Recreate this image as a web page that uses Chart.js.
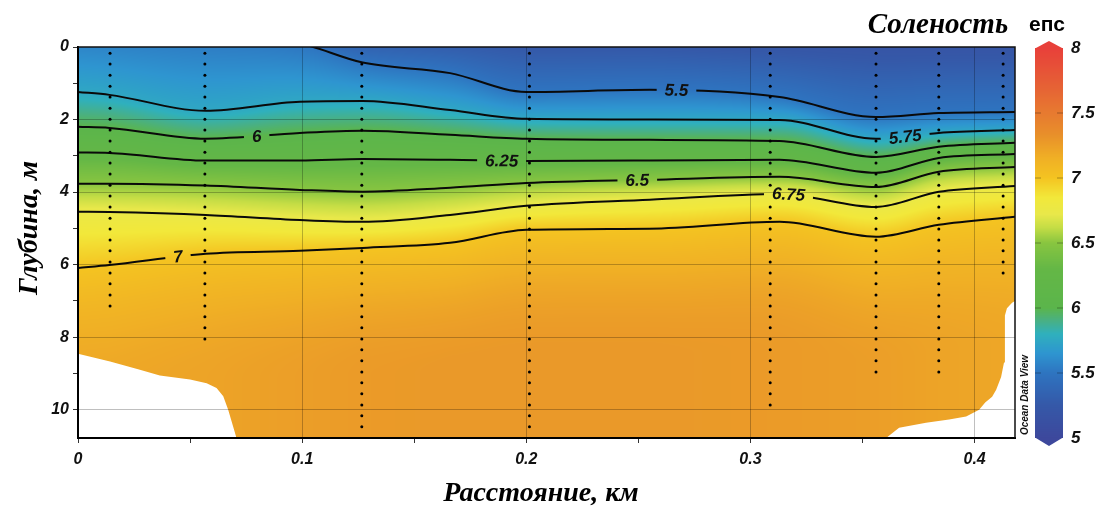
<!DOCTYPE html>
<html>
<head>
<meta charset="utf-8">
<script src="https://cdn.jsdelivr.net/npm/chart.js@4.4.1/dist/chart.umd.min.js"></script>
<style>
body { margin: 0; background: #fff; }
</style>
</head>
<body>
<canvas id="myChart" width="1095" height="506"></canvas>
<script>
// distance along section (km) where contour depths were read
var distKm = [0, 0.014, 0.057, 0.099, 0.127, 0.166, 0.2, 0.255, 0.313, 0.356, 0.384, 0.418];

// salinity contour levels and their depth (m) at each distance
var levels = [5.5, 5.75, 6, 6.25, 6.5, 6.75, 7];
var depth55  = [-0.6, -0.55, -0.4, -0.1, 0.43, 0.72, 1.24, 1.18, 1.38, 1.93, 1.82, 1.79];
var depth575 = [1.24, 1.32, 1.76, 1.51, 1.49, 1.74, 1.98, 2.0, 2.01, 2.53, 2.37, 2.29];
var depth60  = [2.2, 2.23, 2.53, 2.37, 2.31, 2.42, 2.53, 2.56, 2.59, 3.03, 2.75, 2.64];
var depth625 = [2.91, 2.92, 3.13, 3.13, 3.09, 3.11, 3.14, 3.13, 3.11, 3.47, 3.06, 2.95];
var depth65  = [3.77, 3.77, 3.82, 3.94, 3.99, 3.88, 3.75, 3.66, 3.58, 3.86, 3.44, 3.31];
var depth675 = [4.54, 4.55, 4.63, 4.77, 4.82, 4.63, 4.38, 4.21, 4.05, 4.41, 3.99, 3.83];
var depth70  = [6.09, 6.01, 5.7, 5.62, 5.54, 5.4, 5.04, 5.01, 4.82, 5.23, 4.9, 4.68];

// salinity at the surface and at the bottom of the section
var surfSal = [5.45, 5.45, 5.45, 5.45, 5.35, 5.3, 5.25, 5.25, 5.22, 5.2, 5.2, 5.2];
var deepSal = [7.2, 7.2, 7.22, 7.25, 7.27, 7.28, 7.28, 7.28, 7.27, 7.25, 7.22, 7.2];

// contour labels
var labelText = ['5.5', '5.75', '6', '6.25', '6.5', '6.75', '7'];
var labelKm = [0.267, 0.369, 0.0797, 0.189, 0.2495, 0.317, 0.0446];

// CTD stations and sample depths
var stationKm = [0.0143, 0.0566, 0.1266, 0.2014, 0.3088, 0.356, 0.384, 0.4127];
var stationMaxDepth = [7.3, 8.2, 10.5, 10.5, 10.1, 9.0, 9.0, 6.25];
var sampleDepth = [0.17, 0.47, 0.78, 1.08, 1.38, 1.69, 1.99, 2.29, 2.59, 2.9, 3.2, 3.5, 3.81, 4.11,
  4.41, 4.72, 5.02, 5.32, 5.62, 5.93, 6.23, 6.53, 6.84, 7.14, 7.44, 7.74, 8.05, 8.35, 8.65, 8.96,
  9.26, 9.56, 9.87, 10.17, 10.47];

// bottom outline (no data below)
var leftBottomKm = [0, 0.0143, 0.0276, 0.0365, 0.05, 0.0574, 0.0618, 0.0648, 0.067, 0.0692, 0.0707];
var leftBottomDepth = [8.46, 8.67, 8.9, 9.06, 9.17, 9.27, 9.4, 9.63, 10.0, 10.46, 10.78];
var rightBottomKm = [0.3605, 0.3663, 0.3783, 0.3886, 0.3962, 0.402, 0.4047, 0.4078, 0.4096, 0.4118, 0.4131, 0.4135, 0.4135, 0.4144, 0.4167, 0.418];
var rightBottomDepth = [10.78, 10.5, 10.36, 10.27, 10.19, 10.0, 9.8, 9.64, 9.45, 9.1, 8.7, 8.0, 7.4, 7.2, 7.05, 7.0];

// colour scale
var colorbarTicks = [5, 5.5, 6, 6.5, 7, 7.5, 8];
var cmapVal = [5.0, 5.25, 5.5, 5.65, 5.8, 5.9, 6.0, 6.3, 6.5, 6.62, 6.72, 6.85, 7.0, 7.15, 7.33, 7.5, 7.75, 8.0];
var cmapCol = ['#3d489c', '#3558a8', '#2e74c0', '#2e95d0', '#2fb0bd', '#48b085', '#5bb54b', '#64b746',
  '#88c540', '#c5dd45', '#e8e84a', '#f2e83a', '#f4c421', '#f0b025', '#e8902a', '#e77a30', '#e65c36', '#e8403a'];

var xMax = 0.418, yMax = 10.78;

var contourDepths = [depth55, depth575, depth60, depth625, depth65, depth675, depth70];

function hexRgb(h) {
  return [parseInt(h.substr(1, 2), 16), parseInt(h.substr(3, 2), 16), parseInt(h.substr(5, 2), 16)];
}
var cmapRgb = cmapCol.map(hexRgb);

function colorFor(s) {
  if (s <= cmapVal[0]) return cmapRgb[0];
  var n = cmapVal.length;
  if (s >= cmapVal[n - 1]) return cmapRgb[n - 1];
  for (var i = 0; i < n - 1; i++) {
    if (s <= cmapVal[i + 1]) {
      var t = (s - cmapVal[i]) / (cmapVal[i + 1] - cmapVal[i]);
      var a = cmapRgb[i], b = cmapRgb[i + 1];
      return [a[0] + (b[0] - a[0]) * t, a[1] + (b[1] - a[1]) * t, a[2] + (b[2] - a[2]) * t];
    }
  }
}

// same monotone cubic as chart.js uses for the contour lines
function monoSlopes(xs, ys) {
  var n = xs.length, dk = [], m = [], i;
  for (i = 0; i < n - 1; i++) dk[i] = (ys[i + 1] - ys[i]) / (xs[i + 1] - xs[i]);
  for (i = 0; i < n; i++) {
    if (i === 0) m[i] = dk[0];
    else if (i === n - 1) m[i] = dk[n - 2];
    else m[i] = (Math.sign(dk[i - 1]) !== Math.sign(dk[i])) ? 0 : (dk[i - 1] + dk[i]) / 2;
  }
  for (i = 0; i < n - 1; i++) {
    if (Math.abs(dk[i]) < 1e-9) { m[i] = m[i + 1] = 0; continue; }
    var a = m[i] / dk[i], b = m[i + 1] / dk[i], sq = a * a + b * b;
    if (sq <= 9) continue;
    var tau = 3 / Math.sqrt(sq);
    m[i] = a * tau * dk[i];
    m[i + 1] = b * tau * dk[i];
  }
  return m;
}
var contourSlopes = contourDepths.map(function (d) { return monoSlopes(distKm, d); });

function monoAt(xs, ys, m, x) {
  var i = 0;
  while (i < xs.length - 2 && x > xs[i + 1]) i++;
  var h = xs[i + 1] - xs[i], t = (x - xs[i]) / h, t2 = t * t, t3 = t2 * t;
  return (2 * t3 - 3 * t2 + 1) * ys[i] + (t3 - 2 * t2 + t) * h * m[i] +
    (-2 * t3 + 3 * t2) * ys[i + 1] + (t3 - t2) * h * m[i + 1];
}
function linAt(xs, ys, x) {
  var i = 0;
  while (i < xs.length - 2 && x > xs[i + 1]) i++;
  var t = (x - xs[i]) / (xs[i + 1] - xs[i]);
  return ys[i] + (ys[i + 1] - ys[i]) * t;
}

function salAt(ds, top, deep, d) {
  var last = ds.length - 1;
  if (d <= ds[0]) return top + (levels[0] - top) * (ds[0] > 0 ? d / ds[0] : 1);
  if (d >= ds[last]) {
    var t = Math.min(1, (d - ds[last]) / 3.5);
    return levels[last] + (deep - levels[last]) * (1 - (1 - t) * (1 - t));
  }
  for (var k = 0; k < last; k++) {
    if (d < ds[k + 1]) return levels[k] + (levels[k + 1] - levels[k]) * (d - ds[k]) / (ds[k + 1] - ds[k]);
  }
  return levels[last];
}

var fieldCanvas = null;
function buildField(chart) {
  var a = chart.chartArea, sx = chart.scales.x, sy = chart.scales.y;
  var w = Math.round(a.right - a.left), h = Math.round(a.bottom - a.top);
  var cv = document.createElement('canvas');
  cv.width = w; cv.height = h;
  var c = cv.getContext('2d');
  var img = c.createImageData(w, h);
  for (var i = 0; i < w; i++) {
    var km = sx.getValueForPixel(a.left + i + 0.5);
    var ds = contourDepths.map(function (cd, k) { return monoAt(distKm, cd, contourSlopes[k], km); });
    var top = linAt(distKm, surfSal, km), deep = linAt(distKm, deepSal, km);
    for (var j = 0; j < h; j++) {
      var d = sy.getValueForPixel(a.top + j + 0.5);
      var col = colorFor(salAt(ds, top, deep, d));
      var p = (j * w + i) * 4;
      img.data[p] = col[0]; img.data[p + 1] = col[1]; img.data[p + 2] = col[2]; img.data[p + 3] = 255;
    }
  }
  c.putImageData(img, 0, 0);
  return cv;
}

var sectionPlugin = {
  id: 'section',
  beforeDatasetsDraw: function (chart) {
    if (!fieldCanvas) fieldCanvas = buildField(chart);
    var a = chart.chartArea;
    chart.ctx.drawImage(fieldCanvas, a.left, a.top);
  },
  afterDatasetsDraw: function (chart) {
    var ctx = chart.ctx, a = chart.chartArea, sx = chart.scales.x, sy = chart.scales.y;
    ctx.save();
    ctx.font = 'italic bold 17px "Liberation Sans"';
    ctx.textAlign = 'center';
    ctx.textBaseline = 'middle';
    for (var k = 0; k < levels.length; k++) {
      var km = labelKm[k];
      var px = sx.getPixelForValue(km);
      var py = sy.getPixelForValue(monoAt(distKm, contourDepths[k], contourSlopes[k], km));
      var p1 = sy.getPixelForValue(monoAt(distKm, contourDepths[k], contourSlopes[k], km - 0.004));
      var p2 = sy.getPixelForValue(monoAt(distKm, contourDepths[k], contourSlopes[k], km + 0.004));
      var ang = Math.atan2(p2 - p1, sx.getPixelForValue(km + 0.004) - sx.getPixelForValue(km - 0.004));
      var tw = ctx.measureText(labelText[k]).width;
      ctx.save();
      ctx.translate(px, py);
      ctx.rotate(ang);
      ctx.beginPath();
      ctx.rect(-tw / 2 - 8, -6, tw + 16, 12);
      ctx.rotate(-ang);
      ctx.translate(-px, -py);
      ctx.clip();
      ctx.drawImage(fieldCanvas, a.left, a.top);
      ctx.restore();
      ctx.save();
      ctx.translate(px, py);
      ctx.rotate(ang);
      ctx.fillStyle = '#111';
      ctx.fillText(labelText[k], 0, 1);
      ctx.restore();
    }
    ctx.restore();
  },
  afterDraw: function (chart) {
    var ctx = chart.ctx, a = chart.chartArea;
    ctx.save();
    // frame top / right
    ctx.strokeStyle = '#111';
    ctx.lineWidth = 1.5;
    ctx.beginPath();
    ctx.moveTo(a.left, a.top);
    ctx.lineTo(a.right, a.top);
    ctx.lineTo(a.right, a.bottom);
    ctx.stroke();

    // axis titles
    ctx.fillStyle = '#000';
    ctx.font = 'italic bold 28px "Liberation Serif"';
    ctx.textAlign = 'center';
    ctx.textBaseline = 'alphabetic';
    ctx.fillText('Расстояние, км', 541, 501);
    ctx.save();
    ctx.translate(37, 228);
    ctx.rotate(-Math.PI / 2);
    ctx.fillText('Глубина, м', 0, 0);
    ctx.restore();

    ctx.font = 'italic bold 29px "Liberation Serif"';
    ctx.fillText('Соленость', 938, 33);
    ctx.font = 'bold 21px "Liberation Sans"';
    ctx.fillText('епс', 1047, 31);

    // colour bar
    var cbL = 1035, cbR = 1063, cbTop = 48, cbBot = 438;
    var pxPer = (cbBot - cbTop) / (colorbarTicks[colorbarTicks.length - 1] - colorbarTicks[0]);
    for (var y = cbTop; y < cbBot; y++) {
      var v = colorbarTicks[colorbarTicks.length - 1] - (y + 0.5 - cbTop) / pxPer;
      var c = colorFor(v);
      ctx.fillStyle = 'rgb(' + Math.round(c[0]) + ',' + Math.round(c[1]) + ',' + Math.round(c[2]) + ')';
      ctx.fillRect(cbL, y, cbR - cbL, 1);
    }
    ctx.fillStyle = cmapCol[cmapCol.length - 1];
    ctx.beginPath();
    ctx.moveTo(cbL, cbTop + 0.5); ctx.lineTo((cbL + cbR) / 2, cbTop - 7); ctx.lineTo(cbR, cbTop + 0.5);
    ctx.fill();
    ctx.fillStyle = cmapCol[0];
    ctx.beginPath();
    ctx.moveTo(cbL, cbBot - 0.5); ctx.lineTo((cbL + cbR) / 2, cbBot + 8); ctx.lineTo(cbR, cbBot - 0.5);
    ctx.fill();

    ctx.strokeStyle = 'rgba(0,0,0,0.3)';
    ctx.lineWidth = 1;
    ctx.font = 'italic bold 17px "Liberation Sans"';
    ctx.textAlign = 'left';
    ctx.textBaseline = 'middle';
    ctx.fillStyle = '#111';
    colorbarTicks.forEach(function (t) {
      var ty = cbBot - (t - colorbarTicks[0]) * pxPer;
      if (t > colorbarTicks[0] && t < colorbarTicks[colorbarTicks.length - 1]) {
        ctx.beginPath();
        ctx.moveTo(cbL, ty); ctx.lineTo(cbL + 6, ty);
        ctx.moveTo(cbR - 6, ty); ctx.lineTo(cbR, ty);
        ctx.stroke();
      }
      ctx.fillText(String(t), 1071, ty);
    });

    // program mark
    ctx.save();
    ctx.translate(1028, 395);
    ctx.rotate(-Math.PI / 2);
    ctx.font = 'italic bold 10px "Liberation Sans"';
    ctx.textAlign = 'center';
    ctx.textBaseline = 'alphabetic';
    ctx.fillStyle = '#111';
    ctx.fillText('Ocean Data View', 0, 0);
    ctx.restore();
    ctx.restore();
  }
};

function init() {
  var datasets = [];

  // station samples
  var dots = [];
  stationKm.forEach(function (km, i) {
    sampleDepth.forEach(function (d) {
      if (d <= stationMaxDepth[i]) dots.push({ x: km, y: d });
    });
  });
  datasets.push({
    data: dots, showLine: false, pointRadius: 1.5, pointBackgroundColor: '#000',
    pointBorderWidth: 0, order: 0
  });

  // contour lines
  contourDepths.forEach(function (cd, k) {
    datasets.push({
      label: String(levels[k]),
      data: distKm.map(function (km, i) { return { x: km, y: cd[i] }; }),
      borderColor: '#0a0a0a', borderWidth: 2, pointRadius: 0,
      cubicInterpolationMode: 'monotone', fill: false, order: 1
    });
  });

  // bottom (blank) areas
  datasets.push({
    data: leftBottomKm.map(function (km, i) { return { x: km, y: leftBottomDepth[i] }; }),
    borderWidth: 0, pointRadius: 0, backgroundColor: '#fff', fill: { value: yMax }, order: 2
  });
  datasets.push({
    data: rightBottomKm.map(function (km, i) { return { x: km, y: rightBottomDepth[i] }; }),
    borderWidth: 0, pointRadius: 0, backgroundColor: '#fff', fill: { value: yMax }, order: 2
  });

  var tickFont = { family: 'Liberation Sans', size: 16, style: 'italic', weight: 'bold' };

  var ctx = document.getElementById('myChart').getContext('2d');
  var chart = new Chart(ctx, {
    type: 'line',
    data: { datasets: datasets },
    options: {
      responsive: false,
      animation: false,
      devicePixelRatio: 1,
      layout: { padding: { top: 47, right: 80, left: 0, bottom: 0 } },
      elements: { line: { capBezierPoints: false } },
      plugins: { legend: { display: false }, tooltip: { enabled: false } },
      scales: {
        x: {
          type: 'linear', min: 0, max: xMax,
          afterFit: function (s) { s.height = 68; },
          ticks: {
            stepSize: 0.05, includeBounds: false, autoSkip: false, maxRotation: 0, padding: 7,
            color: '#111', font: tickFont,
            callback: function (v) {
              var r = Math.round(v * 100);
              return r % 10 === 0 ? String(r / 100) : '';
            }
          },
          grid: {
            z: 1, tickLength: 5, tickColor: '#333', lineWidth: 1,
            color: function (c) {
              if (!c.tick) return 'transparent';
              var r = Math.round(c.tick.value * 100);
              return (r % 10 === 0 && r > 0) ? 'rgba(0,0,0,0.25)' : 'transparent';
            }
          },
          border: { display: true, color: '#000', width: 2, z: 2 }
        },
        y: {
          type: 'linear', min: 0, max: yMax, reverse: true,
          afterFit: function (s) { s.width = 78; },
          ticks: {
            stepSize: 1, includeBounds: false, autoSkip: false, padding: 4,
            color: '#111', font: tickFont,
            callback: function (v) {
              var r = Math.round(v);
              return r % 2 === 0 ? String(r) : '';
            }
          },
          grid: {
            z: 1, tickLength: 5, tickColor: '#333', lineWidth: 1,
            color: function (c) {
              if (!c.tick) return 'transparent';
              var r = Math.round(c.tick.value);
              return (r % 2 === 0 && r > 0) ? 'rgba(0,0,0,0.25)' : 'transparent';
            }
          },
          border: { display: true, color: '#000', width: 2, z: 2 }
        }
      }
    },
    plugins: [sectionPlugin]
  });
}

init();
</script>
</body>
</html>
